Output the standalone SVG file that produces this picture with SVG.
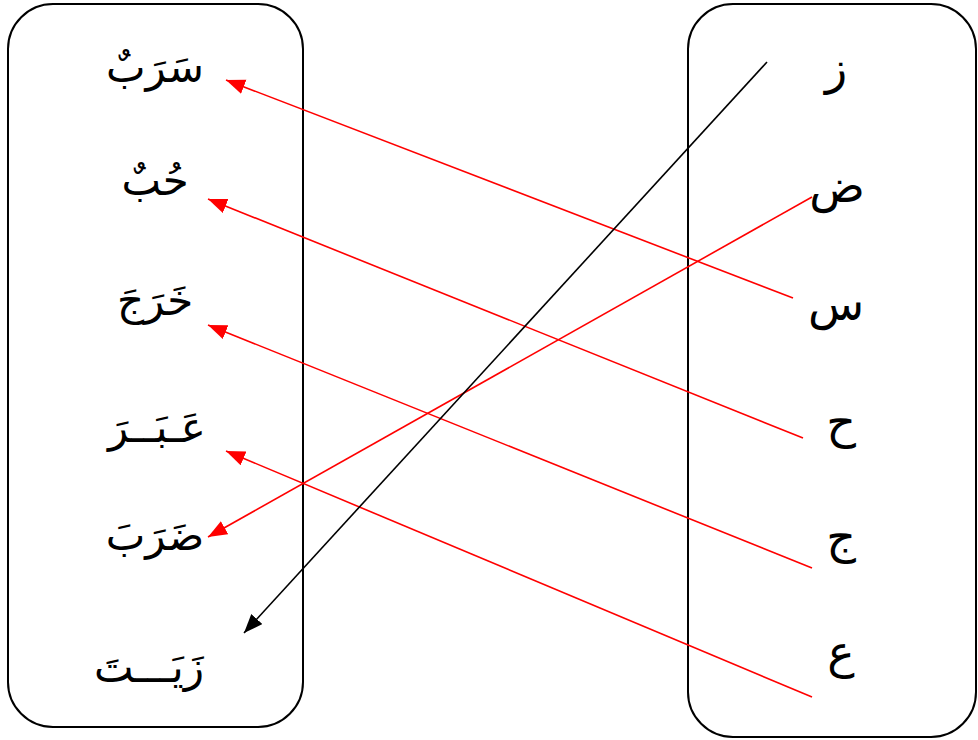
<svg xmlns="http://www.w3.org/2000/svg" width="978" height="740" viewBox="0 0 978 740">
<style>
.box{fill:none;stroke:#000;stroke-width:2}
.t{font-family:"Liberation Serif","DejaVu Serif","DejaVu Sans",serif;font-size:42px;fill:#000;text-anchor:middle;direction:rtl}
.s{font-size:46px}
.r{stroke:#ff0000;stroke-width:1.6;fill:none}
.k{stroke:#000;stroke-width:1.6;fill:none}
</style>
<defs>
<marker id="ar" markerUnits="userSpaceOnUse" markerWidth="22" markerHeight="16" refX="19" refY="7.5" orient="auto"><path d="M0,0 L19,7.5 L0,15 z" fill="#ff0000"/></marker>
<marker id="ak" markerUnits="userSpaceOnUse" markerWidth="22" markerHeight="16" refX="19" refY="7.5" orient="auto"><path d="M0,0 L19,7.5 L0,15 z" fill="#000"/></marker>
</defs>
<g id="left-box">
<rect class="box" x="8" y="4" width="295" height="723" rx="45" ry="45"/>
<g id="w1"><text class="t" x="155" y="82">سَرَبٌ</text></g>
<g id="w2"><text class="t" x="155" y="195">حُبٌ</text></g>
<g id="w3"><text class="t" x="155" y="315">خَرَجَ</text></g>
<g id="w4"><text class="t" x="157" y="442">عَـبَــرَ</text></g>
<g id="w5"><text class="t" x="155" y="550">ضَرَبَ</text></g>
<g id="w6"><text class="t" x="149" y="682">زَيَـــتَ</text></g>
</g>
<g id="right-box">
<rect class="box" x="688" y="4" width="288" height="733" rx="45" ry="45"/>
<g id="l1"><text class="t s" x="836" y="84">ز</text></g>
<g id="l2"><text class="t s" x="837" y="202">ض</text></g>
<g id="l3"><text class="t s" x="836" y="320">س</text></g>
<g id="l4"><text class="t s" x="841" y="438">ح</text></g>
<g id="l5"><text class="t s" x="841" y="553">ج</text></g>
<g id="l6"><text class="t s" x="841" y="668">ع</text></g>
</g>
<g id="connectors">
<line class="r" x1="793" y1="298" x2="226" y2="80" marker-end="url(#ar)"/>
<line class="r" x1="803" y1="438" x2="208" y2="199" marker-end="url(#ar)"/>
<line class="r" x1="812" y1="568" x2="208" y2="325" marker-end="url(#ar)"/>
<line class="r" x1="812" y1="697" x2="226" y2="451" marker-end="url(#ar)"/>
<line class="r" x1="812" y1="197" x2="208" y2="537" marker-end="url(#ar)"/>
<line class="k" x1="767" y1="62" x2="244" y2="633" marker-end="url(#ak)"/>
</g>
</svg>
